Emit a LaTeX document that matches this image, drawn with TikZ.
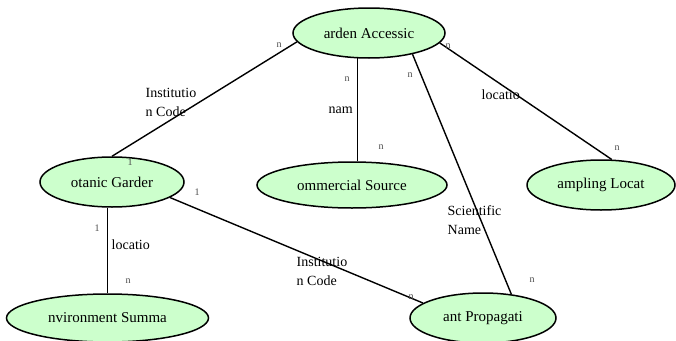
\documentclass[tikz,border=0pt]{standalone}
\usepackage{fontspec}
\setmainfont{Liberation Serif}
\usetikzlibrary{shapes.geometric}
\definecolor{entgreen}{RGB}{204,255,204}

\tikzset{
    entity/.style={ellipse, draw, line width=1.5pt, fill=entgreen, inner sep=0pt, font=\fontsize{15}{17}\selectfont},
    rel/.style={font=\fontsize{14}{19}\selectfont, align=left, inner sep=0pt, anchor=west},
    card/.style={font=\fontsize{10}{10}\selectfont, inner sep=0pt, text=black!70},
}

\begin{document}
\begin{tikzpicture}[x=1pt, y=-1pt, line width=1.4pt]
    \useasboundingbox (0,0) rectangle (676,340);

    % Entities
    \node[entity, minimum width=152, minimum height=50] (ga) at (369,33) {arden Accessic};
    \node[entity, minimum width=144, minimum height=50] (bg) at (112,182) {otanic Garder};
    \node[entity, minimum width=190, minimum height=46] (cs) at (352,185) {ommercial Source};
    \node[entity, minimum width=148, minimum height=50] (sl) at (601,185) {ampling Locat};
    \node[entity, minimum width=202, minimum height=48] (es) at (107.5,318) {nvironment Summa};
    \node[entity, minimum width=146, minimum height=50] (pp) at (483,318) {ant Propagati};

    % Relations
    \draw (ga.187) -- (bg.north);
    \draw (ga.246) -- (ga.246 |- cs.north);
    \draw (ga.-26) -- (pp.40);
    \draw (ga.-8) -- (sl.67);
    \draw (es.north) -- (es.north |- bg.south);
    \draw (bg.-15) -- (pp.166);

    % Garden Accession -- Botanic Garden
    \node[card] (c1a) at (279,45) {n};
    \node[card] (c1b) at (130,162) {1};
    \node[rel] (r1) at (145,102) {Institutio\\n Code};

    % Garden Accession -- Commercial Source
    \node[card] (c2a) at (347,79) {n};
    \node[rel] (r2) at (328,110) {nam};
    \node[card] (c2b) at (381,147) {n};

    % Garden Accession -- Plant Propagation
    \node[card] (c3a) at (410,75) {n};
    \node[rel] (r3) at (447,220) {Scientific\\Name};
    \node[card] (c3b) at (532,280) {n};

    % Garden Accession -- Sampling Location
    \node[card] (c4a) at (448,46) {n};
    \node[rel] (r4) at (481,95) {locatio};
    \node[card] (c4b) at (617,148) {n};

    % Botanic Garden -- Environment Summary
    \node[card] (c5a) at (97,228) {1};
    \node[rel] (r5) at (111,245) {locatio};
    \node[card] (c5b) at (128,281) {n};

    % Botanic Garden -- Plant Propagation
    \node[card] (c6a) at (197,192) {1};
    \node[rel] (r6) at (296,271) {Institutio\\n Code};
    \node[card] (c6b) at (411,297) {n};
\end{tikzpicture}
\end{document}
